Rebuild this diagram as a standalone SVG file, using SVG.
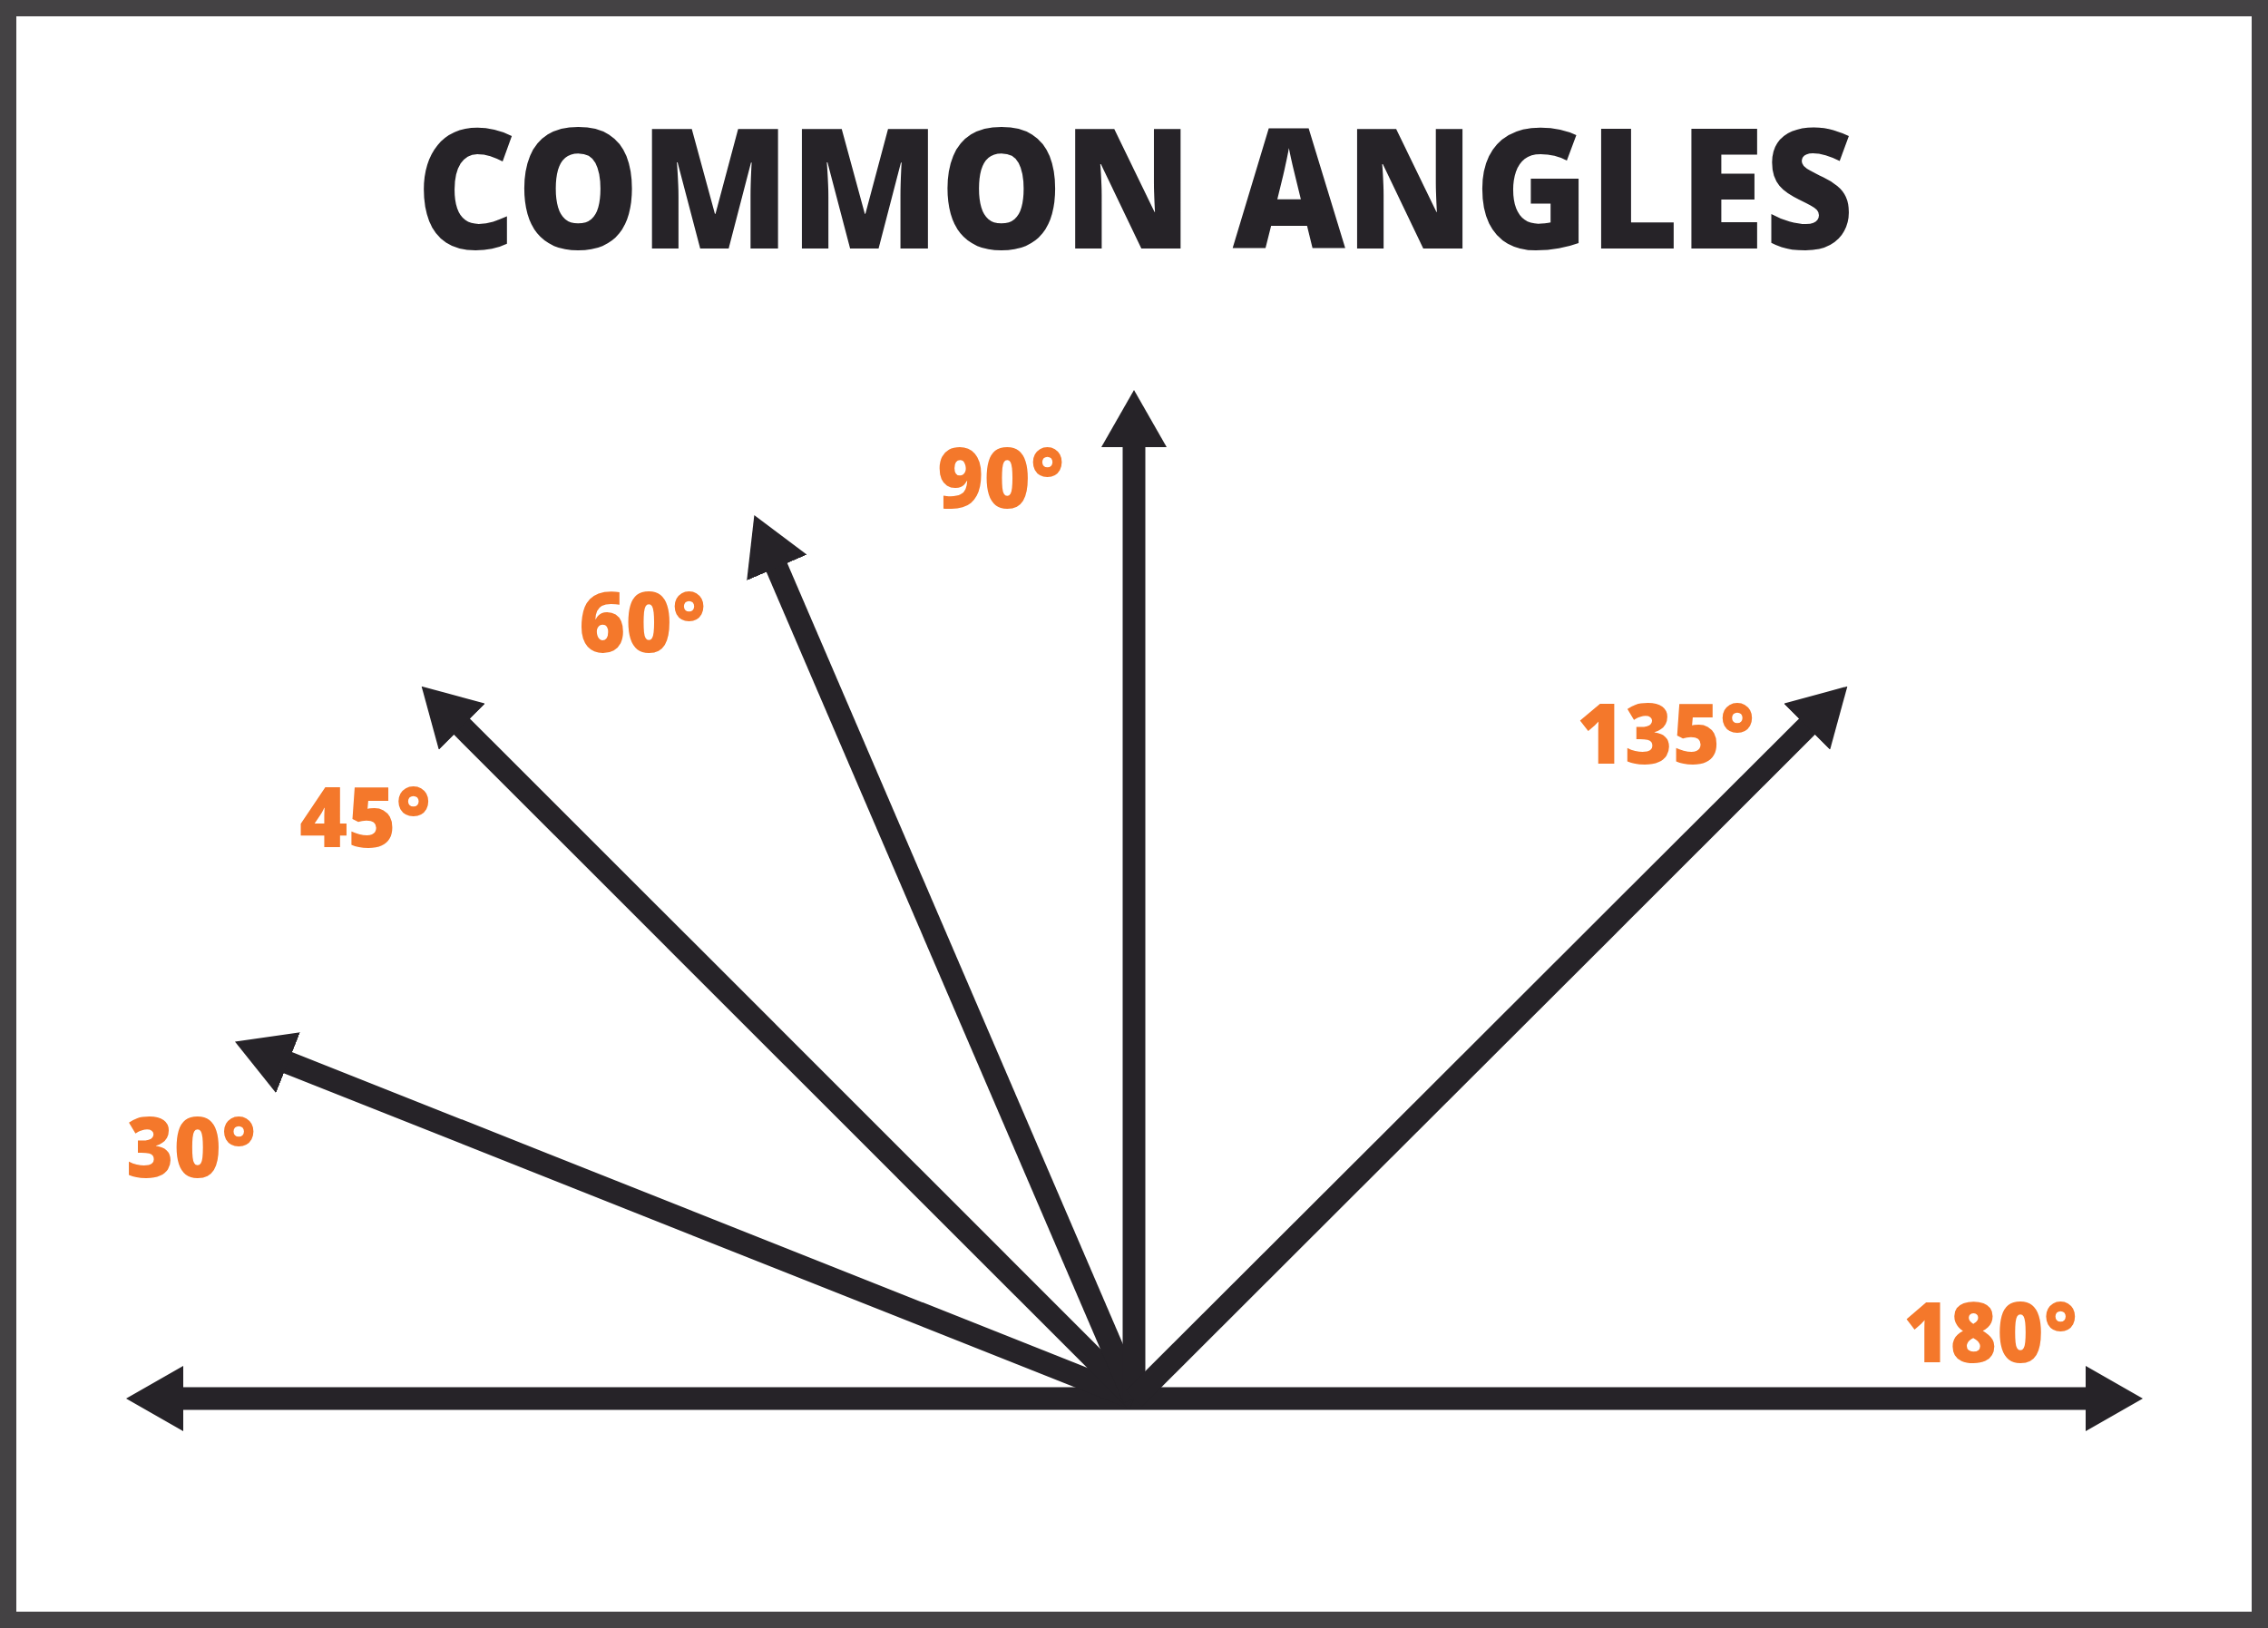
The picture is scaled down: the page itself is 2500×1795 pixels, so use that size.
<svg xmlns="http://www.w3.org/2000/svg" width="2500" height="1795" viewBox="0 0 2500 1795">
  <defs>
    <style>
      .ray { stroke: #262328; stroke-width: 25; fill: none; stroke-linecap: butt; }
      .head { fill: #262328; }
      .title { font-family: "Open Sans", "Inter", "Liberation Sans", sans-serif; font-weight: 800; font-size: 184px; fill: #262328; }
      .lbl { font-family: "Open Sans", "Inter", "Liberation Sans", sans-serif; font-weight: 800; font-size: 92px; fill: #F4782B; }
    </style>
    <marker id="ah" markerUnits="userSpaceOnUse" viewBox="0 -36 63 72" markerWidth="63" markerHeight="72" refX="1" refY="0" orient="auto-start-reverse">
      <path class="head" d="M0,-36 L63,0 L0,36 Z"/>
    </marker>
  </defs>
  <rect x="9" y="9" width="2482" height="1777" fill="#ffffff" stroke="#444244" stroke-width="18"/>
  <g id="title">
    <text class="title" x="1251" y="274" text-anchor="middle" textLength="1585" lengthAdjust="spacingAndGlyphs">COMMON ANGLES</text>
  </g>
  <g id="connectors">
    <line id="ray-180" class="ray" x1="201" y1="1542" x2="2300" y2="1542" marker-start="url(#ah)" marker-end="url(#ah)"/>
    <line id="ray-30" class="ray" x1="1250" y1="1542" x2="316.6" y2="1171.3" marker-end="url(#ah)"/>
    <line id="ray-45" class="ray" x1="1250" y1="1542" x2="508.5" y2="800.5" marker-end="url(#ah)"/>
    <line id="ray-60" class="ray" x1="1250" y1="1542" x2="855.9" y2="624.9" marker-end="url(#ah)"/>
    <line id="ray-90" class="ray" x1="1250" y1="1542" x2="1250" y2="492" marker-end="url(#ah)"/>
    <line id="ray-135" class="ray" x1="1250" y1="1542" x2="1992.5" y2="800.5" marker-end="url(#ah)"/>
  </g>
  <g id="label-30"><text class="lbl" x="139" y="1298" textLength="143" lengthAdjust="spacingAndGlyphs">30°</text></g>
  <g id="label-45"><text class="lbl" x="330" y="934" textLength="145" lengthAdjust="spacingAndGlyphs">45°</text></g>
  <g id="label-60"><text class="lbl" x="638" y="719" textLength="140" lengthAdjust="spacingAndGlyphs">60°</text></g>
  <g id="label-90"><text class="lbl" x="1033" y="560" textLength="140" lengthAdjust="spacingAndGlyphs">90°</text></g>
  <g id="label-135"><text class="lbl" x="1738" y="842" textLength="196" lengthAdjust="spacingAndGlyphs">135°</text></g>
  <g id="label-180"><text class="lbl" x="2098" y="1502" textLength="192" lengthAdjust="spacingAndGlyphs">180°</text></g>
</svg>
